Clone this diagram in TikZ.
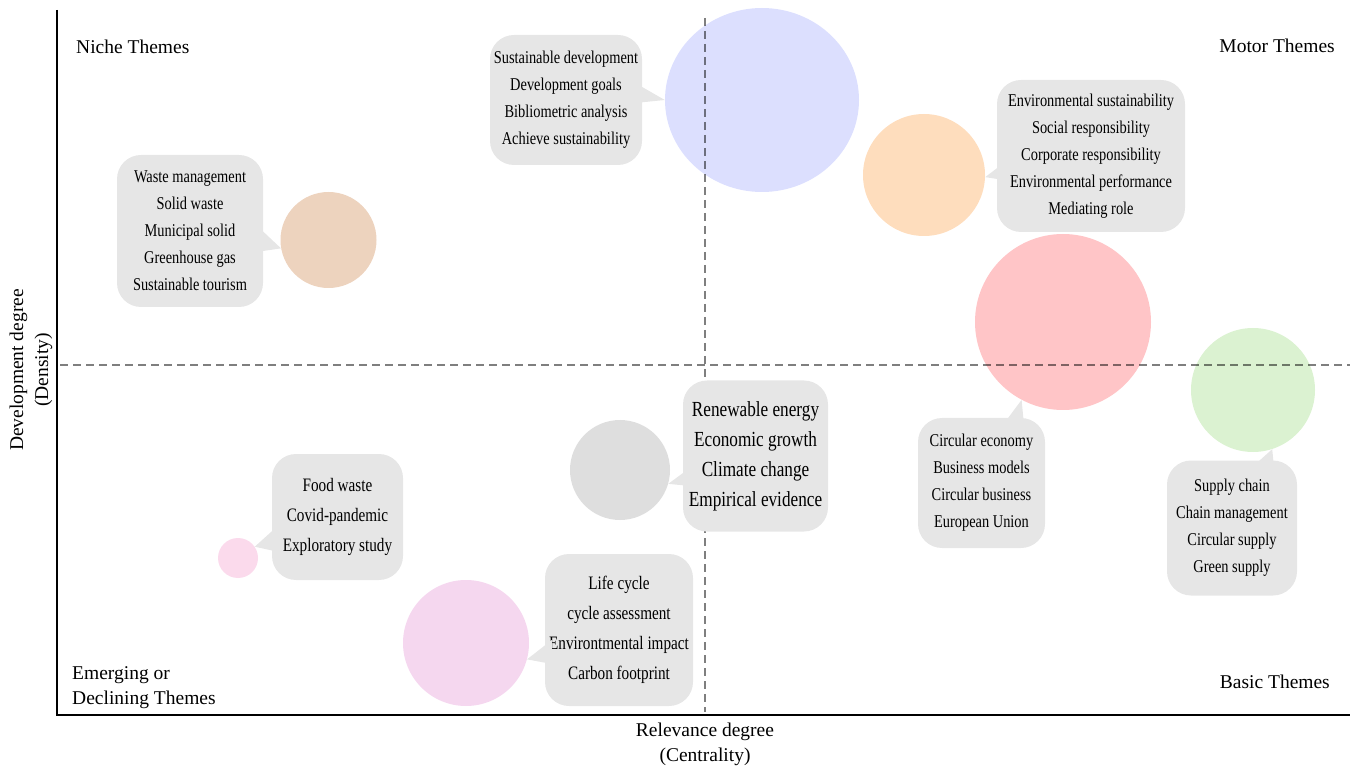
\documentclass[tikz,border=0pt]{standalone}
\usepackage{fontspec}
\setmainfont{Liberation Serif}
\newfontfamily\bfont[FakeStretch=0.8]{Liberation Serif}
\usetikzlibrary{calc,shapes.geometric}
\definecolor{bubblegray}{HTML}{E6E6E6}
\definecolor{cblue}{HTML}{DCDFFE}
\definecolor{corange}{HTML}{FEDDBD}
\definecolor{cbrown}{HTML}{EDD3BE}
\definecolor{cred}{HTML}{FFC5C7}
\definecolor{cgreen}{HTML}{DBF2D1}
\definecolor{cgray}{HTML}{DEDEDE}
\definecolor{cpinks}{HTML}{FBDAEC}
\definecolor{cpink}{HTML}{F5D7EF}
\tikzset{
  theme/.style={circle, inner sep=0pt, minimum size=#1},
  bubble/.style={fill=bubblegray, rounded corners=24pt, align=center, inner sep=0pt,
    font=\bfont\fontsize{18}{27}\selectfont},
  bigbubble/.style={bubble, font=\bfont\fontsize{19}{30}\selectfont},
  hugebubble/.style={bubble, font=\bfont\fontsize{21.5}{30}\selectfont},
  ptr/.style={fill=bubblegray},
  lbl/.style={inner sep=0pt, font=\fontsize{19.5}{25}\selectfont},
  quadline/.style={draw=black, opacity=0.5, line width=2pt, dash pattern=on 8pt off 5pt},
  axisline/.style={draw=black, line width=2pt}
}
\begin{document}
\begin{tikzpicture}[x=1pt,y=-1pt]
\useasboundingbox (0,0) rectangle (1353,767);

% axes
\draw[axisline] (57,10) -- (57,715) -- (1350,715);

% theme circles
\node[ellipse, inner sep=0pt, minimum width=194pt, minimum height=184pt, fill=cblue] (c2) at (762,100) {};
\node[theme=122pt, fill=corange] (c3) at (924,175) {};
\node[theme=96pt, fill=cbrown] (c1) at (328.5,240) {};
\node[theme=176pt, fill=cred] (c5) at (1063,322) {};
\node[theme=124pt, fill=cgreen] (c8) at (1253,390) {};
\node[theme=100pt, fill=cgray] (c4) at (620,470) {};
\node[theme=40pt, fill=cpinks] (c6) at (238,558) {};
\node[theme=126pt, fill=cpink] (c7) at (466,643) {};

% quadrant lines
\draw[quadline] (705,18) -- (705,712);
\draw[quadline] (60,365) -- (1350,365);

% bubbles
\node[bubble, minimum width=146pt, minimum height=152pt] (b1) at (190,231)
  {Waste management\\Solid waste\\Municipal solid\\Greenhouse gas\\Sustainable tourism};
\node[bubble, minimum width=152pt, minimum height=130pt] (b2) at (566,100)
  {Sustainable development\\Development goals\\Bibliometric analysis\\Achieve sustainability};
\node[bubble, minimum width=188pt, minimum height=152pt] (b3) at (1091,156)
  {Environmental sustainability\\Social responsibility\\Corporate responsibility\\Environmental performance\\Mediating role};
\node[hugebubble, minimum width=145pt, minimum height=151pt] (b4) at (755.5,456)
  {Renewable energy\\Economic growth\\Climate change\\Empirical evidence};
\node[bubble, minimum width=127pt, minimum height=130pt] (b5) at (981.5,483)
  {Circular economy\\Business models\\Circular business\\European Union};
\node[bigbubble, minimum width=131pt, minimum height=126pt] (b6) at (337.5,517)
  {Food waste\\Covid-pandemic\\Exploratory study};
\node[bigbubble, minimum width=148pt, minimum height=152pt] (b7) at (619,630)
  {Life cycle\\cycle assessment\\Environtmental impact\\Carbon footprint};
\node[bubble, minimum width=130pt, minimum height=135pt] (b8) at (1232,528)
  {Supply chain\\Chain management\\Circular supply\\Green supply};

% pointers
\fill[ptr] ($(b1.east)+(-7,-6)$) -- (c1.190) -- ($(b1.east)+(-7,21)$) -- cycle;
\fill[ptr] ($(b2.east)+(-7,-17)$) -- (c2.west) -- ($(b2.east)+(-7,3)$) -- cycle;
\fill[ptr] ($(b3.west)+(7,7)$) -- (c3.-2) -- ($(b3.west)+(7,24)$) -- cycle;
\fill[ptr] ($(b4.west)+(7,12)$) -- (c4.-16) -- ($(b4.west)+(7,30)$) -- cycle;
\fill[ptr] ($(b5.north)+(21.5,7)$) -- (c5.242) -- ($(b5.north)+(42.5,7)$) -- cycle;
\fill[ptr] ($(b6.west)+(7,8)$) -- (c6.34) -- ($(b6.west)+(7,35)$) -- cycle;
\fill[ptr] ($(b7.west)+(7,10)$) -- (c7.-15) -- ($(b7.west)+(7,34)$) -- cycle;
\fill[ptr] ($(b8.north)+(20,7)$) -- (c8.-72) -- ($(b8.north)+(42,7)$) -- cycle;

% quadrant labels
\node[lbl, anchor=west] (niche) at (76,47) {Niche Themes};
\node[lbl, anchor=east] (motor) at (1335,46) {Motor Themes};
\node[lbl, anchor=west, align=left] (emerg) at (72,688) {Emerging or\\Declining Themes};
\node[lbl, anchor=east] (basic) at (1330,682) {Basic Themes};

% axis titles
\node[lbl, align=center] (xtitle) at (705,744) {Relevance degree\\(Centrality)};
\node[lbl, align=center, rotate=90] (ytitle) at (31,370) {Development degree\\(Density)};
\end{tikzpicture}
\end{document}
